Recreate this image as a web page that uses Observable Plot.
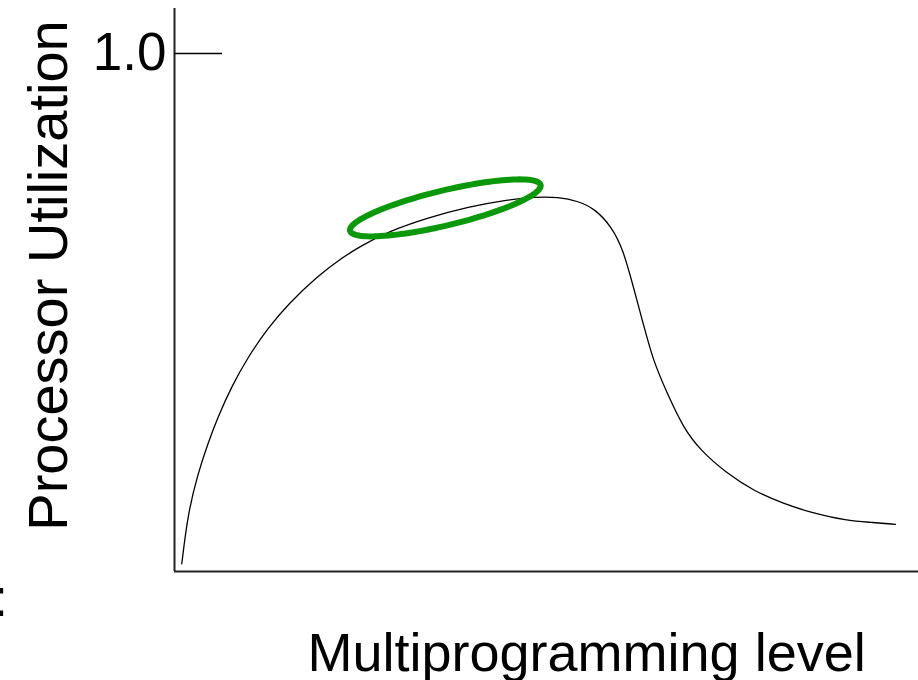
<!DOCTYPE html>
<html>
<head>
<meta charset="utf-8">
<script src="https://cdn.jsdelivr.net/npm/d3@7"></script>
<script src="https://cdn.jsdelivr.net/npm/@observablehq/plot@0.6"></script>
<style>
  html, body { margin: 0; padding: 0; background: #fff; }
  #chart svg { display: block; overflow: visible; }
</style>
</head>
<body>
<div id="chart"></div>
<script>
// Multiprogramming level (arbitrary units 0–100)
const level = [0.98, 1.79, 3.14, 4.48, 5.83, 7.63, 9.87, 12.56, 15.25, 19.29, 22.44, 25.13, 28.71, 34.09, 39.48, 44.86, 48.45, 51.59, 54.28, 56.53, 58.78, 60.34, 61.68, 62.99, 64.33, 66.22, 68.37, 70.66, 74.29, 77.79, 81.83, 85.46, 90.44, 93.54, 96.90];
// Processor utilization (fraction of 1.0)
const utilization = [0.015, 0.111, 0.189, 0.247, 0.298, 0.356, 0.414, 0.470, 0.516, 0.571, 0.605, 0.629, 0.656, 0.683, 0.704, 0.718, 0.723, 0.723, 0.715, 0.700, 0.665, 0.620, 0.549, 0.479, 0.407, 0.344, 0.278, 0.234, 0.189, 0.156, 0.131, 0.114, 0.098, 0.095, 0.091];
// Highlight ellipse centre (data units)
const highlightLevel = [36.4];
const highlightUtil = [0.702];
const yTicks = [1.0];
const xLabel = "Multiprogramming level";
const yLabel = "Processor Utilization";

const curve = level.map((x, i) => ({x, y: utilization[i]}));
const highlight = highlightLevel.map((x, i) => ({x, y: highlightUtil[i]}));

const font = "'Liberation Sans', Arial, Helvetica, sans-serif";

// rotated ellipse symbol (semi-axes in px)
const ellipseSymbol = {
  draw(ctx) {
    const a = 98, b = 17.5, t = -13.5 * Math.PI / 180;
    const n = 120;
    for (let i = 0; i <= n; i++) {
      const u = (i / n) * 2 * Math.PI;
      const ex = a * Math.cos(u), ey = b * Math.sin(u);
      const px = ex * Math.cos(t) - ey * Math.sin(t);
      const py = ex * Math.sin(t) + ey * Math.cos(t);
      if (i === 0) ctx.moveTo(px, py); else ctx.lineTo(px, py);
    }
    ctx.closePath();
  }
};

const chart = Plot.plot({
  width: 918,
  height: 680,
  marginLeft: 174,
  marginRight: 0,
  marginTop: 8,
  marginBottom: 109,
  style: {fontFamily: font, background: "#fff", color: "#000"},
  x: {domain: [0, 100], axis: null},
  y: {domain: [0, 1.0869], axis: null},
  marks: [
    Plot.ruleX([0], {stroke: "#222", strokeWidth: 2}),
    Plot.ruleY([0], {stroke: "#222", strokeWidth: 2}),
    Plot.tickY(yTicks, {stroke: "#000", strokeWidth: 1.5, insetRight: 696}),
    Plot.axisY({ticks: yTicks, tickSize: 0, tickPadding: 8, tickFormat: d3.format(".1f"), label: null, fontSize: 53, fill: "#000"}),
    Plot.line(curve, {x: "x", y: "y", curve: "basis", stroke: "#000", strokeWidth: 1.3}),
    Plot.dot(highlight, {x: "x", y: "y", symbol: ellipseSymbol, r: 10, fill: "none", stroke: "#0b990b", strokeWidth: 6}),
    Plot.text([xLabel], {frameAnchor: "bottom-left", textAnchor: "start", lineAnchor: "bottom", dx: 133, dy: 99, fontSize: 54, fill: "#000"}),
    Plot.text([yLabel], {frameAnchor: "left", rotate: -90, textAnchor: "middle", lineAnchor: "bottom", dx: -108, dy: -14.5, fontSize: 56, fill: "#000"}),
    Plot.text([":"], {frameAnchor: "bottom-left", textAnchor: "middle", lineAnchor: "bottom", dx: -174, dy: 44, fontSize: 53, fill: "#000"})
  ]
});
document.getElementById("chart").appendChild(chart);
</script>
</body>
</html>
